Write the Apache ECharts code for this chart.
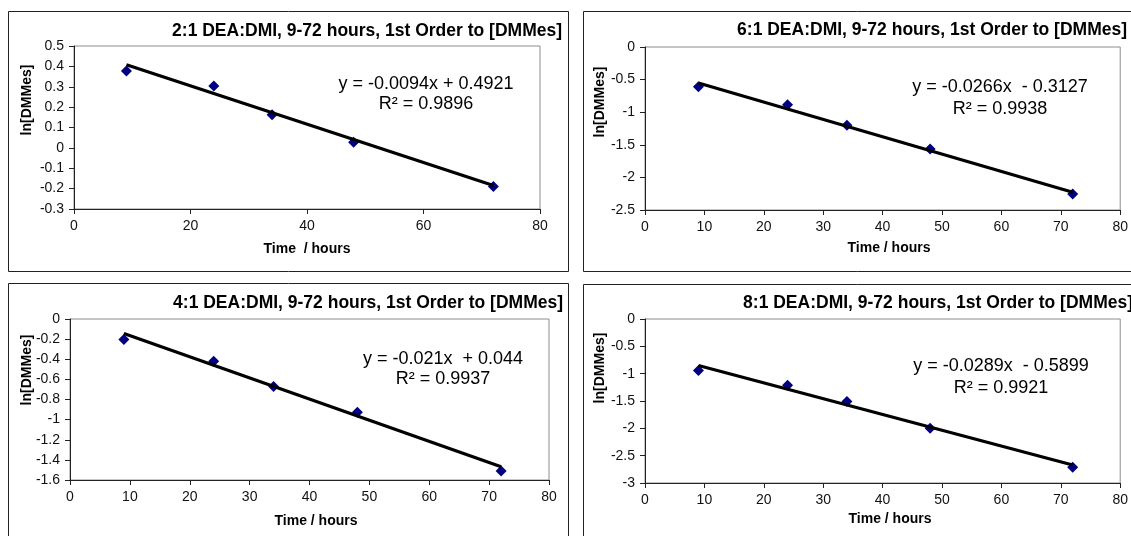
<!DOCTYPE html>
<html><head><meta charset="utf-8">
<script src="https://cdn.jsdelivr.net/npm/echarts@6/dist/echarts.min.js"></script>
<style>html,body{margin:0;padding:0;background:#fff}#c{width:1131px;height:536px}</style>
</head><body><div id="c"></div>
<script>
// ---- data ----
const hours = [9, 24, 34, 48, 72];
const ln2to1 = [0.377, 0.304, 0.162, 0.028, -0.19];
const ln6to1 = [-0.61, -0.885, -1.2, -1.565, -2.253];
const ln4to1 = [-0.203, -0.42, -0.67, -0.927, -1.51];
const ln8to1 = [-0.942, -1.21, -1.51, -2.0, -2.71];
const panelTitles = [
  '2:1 DEA:DMI, 9-72 hours, 1st Order to [DMMes]',
  '6:1 DEA:DMI, 9-72 hours, 1st Order to [DMMes]',
  '4:1 DEA:DMI, 9-72 hours, 1st Order to [DMMes]',
  '8:1 DEA:DMI, 9-72 hours, 1st Order to [DMMes]'
];
const slopes = [-0.0094, -0.0266, -0.021, -0.0289];
const intercepts = [0.4921, -0.3127, 0.044, -0.5899];
const eqLabels = ['y = -0.0094x + 0.4921', 'y = -0.0266x  - 0.3127', 'y = -0.021x  + 0.044', 'y = -0.0289x  - 0.5899'];
const r2Labels = ['R\u00B2 = 0.9896', 'R\u00B2 = 0.9938', 'R\u00B2 = 0.9937', 'R\u00B2 = 0.9921'];
const xNames = ['Time  / hours', 'Time / hours', 'Time / hours', 'Time / hours'];
const yName = 'ln[DMMes]';
const xMin = 0, xMax = 80;
const xIntervals = [20, 10, 10, 10];
const yMins = [-0.3, -2.5, -1.6, -3];
const yMaxs = [0.5, 0, 0, 0];
const yIntervals = [0.1, 0.5, 0.2, 0.5];
const yDecimals = [1, 1, 1, 1];
const seriesValues = [ln2to1, ln6to1, ln4to1, ln8to1];

// ---- layout ----
const FONT = '"Liberation Sans", Arial, sans-serif';
const grids = [
  {left: 74, top: 46, width: 466, height: 163},
  {left: 645, top: 47, width: 478, height: 163},
  {left: 70, top: 319, width: 479, height: 161},
  {left: 645, top: 319, width: 478, height: 164}
];
const frames = [[8.5, 11.5, 560, 260], [583.5, 11.5, 600, 260], [8.5, 283.5, 560, 300], [583.5, 284.5, 600, 300]];
const titlePos = [[562, 31], [1127, 30], [563, 303], [1133, 303]];
const eqPos = [[426, 84, 104], [1000, 87, 109], [443, 359, 379], [1001, 366, 388]];
const yNamePos = [[27, 100], [600, 102], [27, 370], [600, 368]];
const xNamePos = [[307, 249], [889, 248], [316, 521], [890, 519]];

const xAxis = [], yAxis = [], series = [], graphic = [];
for (let i = 0; i < 4; i++) {
  grids[i].show = true;
  grids[i].borderColor = '#8c8c8c';
  grids[i].borderWidth = 1;
  grids[i].backgroundColor = '#fff';
  xAxis.push({
    type: 'value', gridIndex: i, min: xMin, max: xMax, interval: xIntervals[i],
    axisLine: {show: true, onZero: false, lineStyle: {color: '#222', width: 1}},
    axisTick: {show: true, length: 5, lineStyle: {color: '#222'}},
    axisLabel: {fontFamily: FONT, fontSize: 14, color: '#111', margin: 10},
    splitLine: {show: false}
  });
  const dec = yDecimals[i];
  yAxis.push({
    type: 'value', gridIndex: i, min: yMins[i], max: yMaxs[i], interval: yIntervals[i],
    axisLine: {show: true, onZero: false, lineStyle: {color: '#222', width: 1}},
    axisTick: {show: true, length: 5, lineStyle: {color: '#222'}},
    axisLabel: {fontFamily: FONT, fontSize: 14, color: '#111', margin: 10,
      formatter: v => String(parseFloat(v.toFixed(dec)))},
    splitLine: {show: false}
  });
  series.push({
    type: 'scatter', xAxisIndex: i, yAxisIndex: i,
    symbol: 'diamond', symbolSize: 11,
    itemStyle: {color: '#000080', opacity: 1},
    data: hours.map((h, k) => [h, seriesValues[i][k]]),
    z: 3
  });
  const x0 = hours[0], x1 = hours[hours.length - 1];
  series.push({
    type: 'line', xAxisIndex: i, yAxisIndex: i,
    showSymbol: false, symbol: 'none',
    lineStyle: {color: '#000', width: 3.2},
    data: [[x0, slopes[i] * x0 + intercepts[i]], [x1, slopes[i] * x1 + intercepts[i]]],
    z: 4, silent: true
  });
  const f = frames[i];
  graphic.push({type: 'rect', shape: {x: f[0], y: f[1], width: f[2], height: f[3]},
    style: {fill: 'none', stroke: '#222', lineWidth: 1}, z: -10});
  graphic.push({type: 'text', x: titlePos[i][0], y: titlePos[i][1],
    style: {text: panelTitles[i], font: 'bold 17.5px ' + FONT, fill: '#000', align: 'right', verticalAlign: 'middle'}});
  graphic.push({type: 'text', x: eqPos[i][0], y: eqPos[i][1],
    style: {text: eqLabels[i], font: '18px ' + FONT, fill: '#000', align: 'center', verticalAlign: 'middle'}});
  graphic.push({type: 'text', x: eqPos[i][0], y: eqPos[i][2],
    style: {text: r2Labels[i], font: '18px ' + FONT, fill: '#000', align: 'center', verticalAlign: 'middle'}});
  graphic.push({type: 'text', x: yNamePos[i][0], y: yNamePos[i][1], rotation: Math.PI / 2,
    style: {text: yName, font: 'bold 14px ' + FONT, fill: '#000', align: 'center', verticalAlign: 'middle'}});
  graphic.push({type: 'text', x: xNamePos[i][0], y: xNamePos[i][1],
    style: {text: xNames[i], font: 'bold 14px ' + FONT, fill: '#000', align: 'center', verticalAlign: 'middle'}});
}

const chart = echarts.init(document.getElementById('c'), null, {renderer: 'canvas'});
chart.setOption({
  backgroundColor: '#fff',
  animation: false,
  grid: grids, xAxis, yAxis, series, graphic
});
</script>
</body></html>
